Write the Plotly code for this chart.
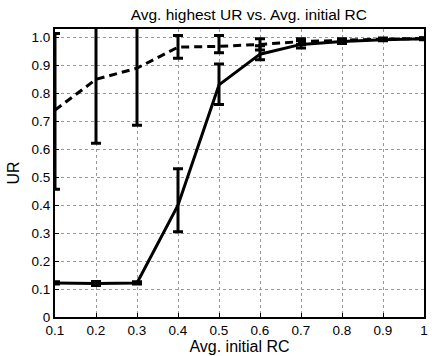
import plotly.graph_objects as go

x = [0.1, 0.2, 0.3, 0.4, 0.5, 0.6, 0.7, 0.8, 0.9, 1.0]

solid_y = [0.122, 0.120, 0.122, 0.40, 0.83, 0.94, 0.975, 0.985, 0.992, 0.995]
solid_lo = [0.118, 0.113, 0.118, 0.305, 0.76, 0.92, 0.962, 0.978, 0.988, 0.992]
solid_hi = [0.126, 0.127, 0.126, 0.53, 0.905, 0.97, 0.988, 0.992, 0.996, 0.998]

dash_y = [0.74, 0.85, 0.89, 0.965, 0.968, 0.975, 0.985, 0.99, 0.994, 0.996]
dash_lo = [0.457, 0.621, 0.686, 0.925, 0.945, 0.955, 0.975, 0.985, 0.99, 0.993]
dash_hi = [1.014, 1.10, 1.10, 1.007, 1.007, 0.995, 0.995, 0.995, 0.998, 0.999]

xticks = [0.1, 0.2, 0.3, 0.4, 0.5, 0.6, 0.7, 0.8, 0.9, 1.0]
xticktext = ["0.1", "0.2", "0.3", "0.4", "0.5", "0.6", "0.7", "0.8", "0.9", "1"]
yticks = [0, 0.1, 0.2, 0.3, 0.4, 0.5, 0.6, 0.7, 0.8, 0.9, 1.0]
yticktext = ["0", "0.1", "0.2", "0.3", "0.4", "0.5", "0.6", "0.7", "0.8", "0.9", "1.0"]

FONT = "Liberation Sans, Arial"

def err(y, lo, hi):
    return dict(type="data", symmetric=False,
                array=[h - v for v, h in zip(y, hi)],
                arrayminus=[v - l for v, l in zip(y, lo)],
                color="black", thickness=3, width=5)

fig = go.Figure()
fig.add_trace(go.Scatter(x=x, y=dash_y, mode="lines",
                         line=dict(color="black", width=3, dash="8px,5px"),
                         error_y=err(dash_y, dash_lo, dash_hi)))
fig.add_trace(go.Scatter(x=x, y=solid_y, mode="lines",
                         line=dict(color="black", width=3),
                         error_y=err(solid_y, solid_lo, solid_hi)))

axis_common = dict(showline=True, linecolor="black", linewidth=2, mirror=True,
                   ticks="inside", ticklen=4, tickcolor="black",
                   showgrid=True, gridcolor="#999999", griddash="dot", gridwidth=1,
                   zeroline=False,
                   tickfont=dict(family=FONT, size=13.5, color="black"))

fig.update_layout(
    width=432, height=356,
    margin=dict(l=55, r=4, t=29, b=39),
    paper_bgcolor="white", plot_bgcolor="white",
    showlegend=False,
    title=dict(text="Avg. highest UR vs. Avg. initial RC", x=0.576, xanchor="center",
               y=0.958, yanchor="middle",
               font=dict(family=FONT, size=15.5, color="black")),
    xaxis=dict(range=[0.1, 1.0], tickvals=xticks, ticktext=xticktext,
               ticklabelstandoff=0,
               title=dict(text="Avg. initial RC", standoff=0,
                          font=dict(family=FONT, size=16, color="black")),
               **axis_common),
    yaxis=dict(range=[0, 1.03], tickvals=yticks, ticktext=yticktext,
               ticklabelstandoff=0,
               title=dict(text="UR", standoff=8,
                          font=dict(family=FONT, size=16, color="black")),
               **axis_common),
)

fig.write_html("out.html")
